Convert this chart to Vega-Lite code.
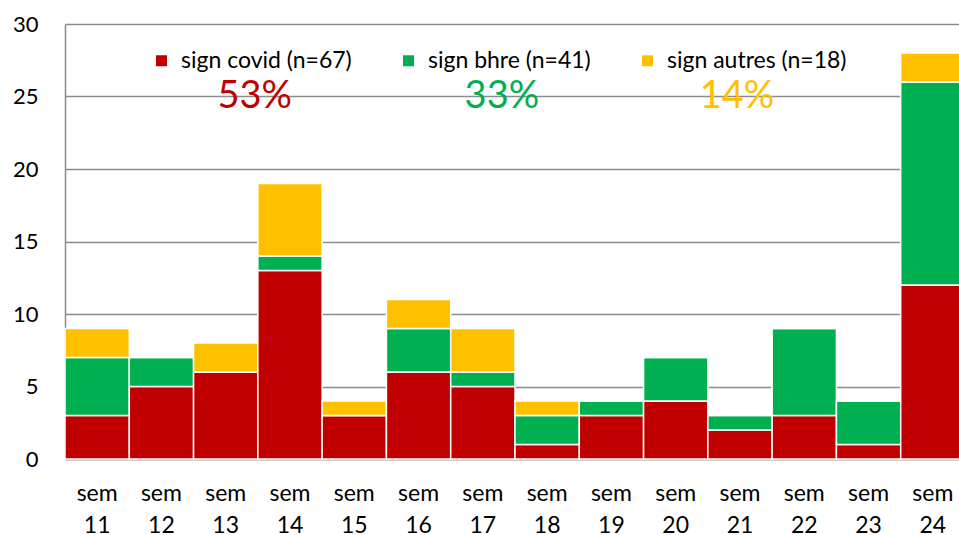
{
  "$schema": "https://vega.github.io/schema/vega-lite/v6.json",
  "width": 900,
  "height": 435,
  "autosize": {"type": "none"},
  "padding": {"left": 65, "top": 24, "right": 0, "bottom": 76},
  "background": "white",
  "config": {
    "font": "Lato",
    "view": {"stroke": null}
  },
  "datasets": {
    "bars": [
      {"sem": "sem 11", "serie": "sign covid (n=67)", "ord": 1, "n": 3},
      {"sem": "sem 11", "serie": "sign bhre (n=41)", "ord": 2, "n": 4},
      {"sem": "sem 11", "serie": "sign autres (n=18)", "ord": 3, "n": 2},
      {"sem": "sem 12", "serie": "sign covid (n=67)", "ord": 1, "n": 5},
      {"sem": "sem 12", "serie": "sign bhre (n=41)", "ord": 2, "n": 2},
      {"sem": "sem 12", "serie": "sign autres (n=18)", "ord": 3, "n": 0},
      {"sem": "sem 13", "serie": "sign covid (n=67)", "ord": 1, "n": 6},
      {"sem": "sem 13", "serie": "sign bhre (n=41)", "ord": 2, "n": 0},
      {"sem": "sem 13", "serie": "sign autres (n=18)", "ord": 3, "n": 2},
      {"sem": "sem 14", "serie": "sign covid (n=67)", "ord": 1, "n": 13},
      {"sem": "sem 14", "serie": "sign bhre (n=41)", "ord": 2, "n": 1},
      {"sem": "sem 14", "serie": "sign autres (n=18)", "ord": 3, "n": 5},
      {"sem": "sem 15", "serie": "sign covid (n=67)", "ord": 1, "n": 3},
      {"sem": "sem 15", "serie": "sign bhre (n=41)", "ord": 2, "n": 0},
      {"sem": "sem 15", "serie": "sign autres (n=18)", "ord": 3, "n": 1},
      {"sem": "sem 16", "serie": "sign covid (n=67)", "ord": 1, "n": 6},
      {"sem": "sem 16", "serie": "sign bhre (n=41)", "ord": 2, "n": 3},
      {"sem": "sem 16", "serie": "sign autres (n=18)", "ord": 3, "n": 2},
      {"sem": "sem 17", "serie": "sign covid (n=67)", "ord": 1, "n": 5},
      {"sem": "sem 17", "serie": "sign bhre (n=41)", "ord": 2, "n": 1},
      {"sem": "sem 17", "serie": "sign autres (n=18)", "ord": 3, "n": 3},
      {"sem": "sem 18", "serie": "sign covid (n=67)", "ord": 1, "n": 1},
      {"sem": "sem 18", "serie": "sign bhre (n=41)", "ord": 2, "n": 2},
      {"sem": "sem 18", "serie": "sign autres (n=18)", "ord": 3, "n": 1},
      {"sem": "sem 19", "serie": "sign covid (n=67)", "ord": 1, "n": 3},
      {"sem": "sem 19", "serie": "sign bhre (n=41)", "ord": 2, "n": 1},
      {"sem": "sem 19", "serie": "sign autres (n=18)", "ord": 3, "n": 0},
      {"sem": "sem 20", "serie": "sign covid (n=67)", "ord": 1, "n": 4},
      {"sem": "sem 20", "serie": "sign bhre (n=41)", "ord": 2, "n": 3},
      {"sem": "sem 20", "serie": "sign autres (n=18)", "ord": 3, "n": 0},
      {"sem": "sem 21", "serie": "sign covid (n=67)", "ord": 1, "n": 2},
      {"sem": "sem 21", "serie": "sign bhre (n=41)", "ord": 2, "n": 1},
      {"sem": "sem 21", "serie": "sign autres (n=18)", "ord": 3, "n": 0},
      {"sem": "sem 22", "serie": "sign covid (n=67)", "ord": 1, "n": 3},
      {"sem": "sem 22", "serie": "sign bhre (n=41)", "ord": 2, "n": 6},
      {"sem": "sem 22", "serie": "sign autres (n=18)", "ord": 3, "n": 0},
      {"sem": "sem 23", "serie": "sign covid (n=67)", "ord": 1, "n": 1},
      {"sem": "sem 23", "serie": "sign bhre (n=41)", "ord": 2, "n": 3},
      {"sem": "sem 23", "serie": "sign autres (n=18)", "ord": 3, "n": 0},
      {"sem": "sem 24", "serie": "sign covid (n=67)", "ord": 1, "n": 12},
      {"sem": "sem 24", "serie": "sign bhre (n=41)", "ord": 2, "n": 14},
      {"sem": "sem 24", "serie": "sign autres (n=18)", "ord": 3, "n": 2}
    ],
    "pct": [
      {"sem": "sem 13", "y": 25, "label": "53%", "serie": "sign covid (n=67)"},
      {"sem": "sem 17", "y": 25, "label": "33%", "serie": "sign bhre (n=41)"},
      {"sem": "sem 21", "y": 25, "label": "14%", "serie": "sign autres (n=18)"}
    ]
  },
  "encoding": {
    "x": {
      "field": "sem", "type": "nominal", "sort": null,
      "scale": {"paddingInner": 0, "paddingOuter": 0},
      "axis": {
        "title": null, "labelAngle": 0, "labelFontSize": 23, "labelColor": "black",
        "labelExpr": "split(datum.label, ' ')", "labelLineHeight": 32,
        "labelPadding": 23, "ticks": false, "domainColor": "#8c8c8c", "domainWidth": 1.5,
        "labelBaseline": "top"
      }
    }
  },
  "layer": [
    {
      "data": {"name": "bars"},
      "mark": {"type": "bar", "stroke": "white", "strokeWidth": 1.5},
      "encoding": {
        "y": {
          "field": "n", "type": "quantitative", "stack": "zero",
          "scale": {"domain": [0, 30], "nice": false},
          "axis": {
            "title": null, "values": [0, 5, 10, 15, 20, 25, 30], "labelFontSize": 22,
            "labelColor": "black", "labelPadding": 27, "ticks": false,
            "domain": true, "domainColor": "#8c8c8c", "domainWidth": 1.5,
            "gridColor": "#8c8c8c", "gridWidth": 1.5
          }
        },
        "color": {
          "field": "serie", "type": "nominal",
          "scale": {
            "domain": ["sign covid (n=67)", "sign bhre (n=41)", "sign autres (n=18)"],
            "range": ["#C00000", "#00B050", "#FFC000"]
          },
          "legend": {
            "title": null, "orient": "none", "direction": "horizontal",
            "legendX": 85, "legendY": 25, "symbolType": "square", "symbolSize": 121,
            "symbolStrokeWidth": 0, "labelFontSize": 23, "labelColor": "black",
            "labelOffset": 8, "columnPadding": 45, "labelLimit": 400
          }
        },
        "order": {"field": "ord", "type": "quantitative"}
      }
    },
    {
      "data": {"name": "pct"},
      "transform": [{"filter": "datum.label == '53%'"}],
      "mark": {"type": "text", "fontSize": 38, "baseline": "middle", "align": "center", "dx": 29},
      "encoding": {
        "y": {"field": "y", "type": "quantitative"},
        "text": {"field": "label"},
        "color": {"field": "serie", "type": "nominal", "legend": null}
      }
    },
    {
      "data": {"name": "pct"},
      "transform": [{"filter": "datum.label == '33%'"}],
      "mark": {"type": "text", "fontSize": 38, "baseline": "middle", "align": "center", "dx": 19},
      "encoding": {
        "y": {"field": "y", "type": "quantitative"},
        "text": {"field": "label"},
        "color": {"field": "serie", "type": "nominal", "legend": null}
      }
    },
    {
      "data": {"name": "pct"},
      "transform": [{"filter": "datum.label == '14%'"}],
      "mark": {"type": "text", "fontSize": 38, "baseline": "middle", "align": "center", "dx": -3},
      "encoding": {
        "y": {"field": "y", "type": "quantitative"},
        "text": {"field": "label"},
        "color": {"field": "serie", "type": "nominal", "legend": null}
      }
    }
  ]
}
